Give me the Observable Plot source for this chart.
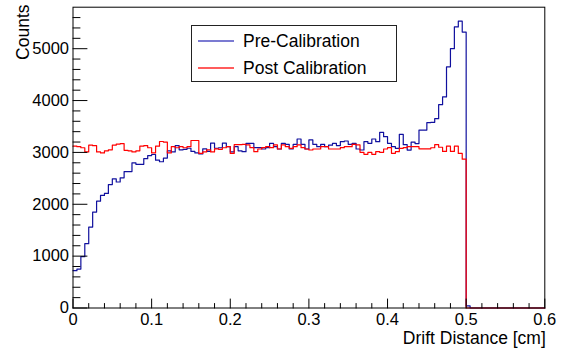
<!DOCTYPE html>
<html>
<head>
<meta charset="utf-8">
<script src="https://cdn.jsdelivr.net/npm/d3@7"></script>
<script src="https://cdn.jsdelivr.net/npm/@observablehq/plot@0.6"></script>
<style>
  body { margin: 0; background: #fff; }
  #wrap { position: relative; width: 564px; height: 349px; font-family: "Liberation Sans", Arial, sans-serif; }
  #legend { position: absolute; left: 191px; top: 25px; width: 206px; height: 57px; border: 1px solid #222; background: #fff; box-sizing: border-box; }
  .sw { position: absolute; left: 6px; width: 36px; height: 0; border-top: 2px solid; }
  .lbl { position: absolute; left: 51px; font-size: 17.5px; line-height: 20px; color: #000; white-space: nowrap; }
</style>
</head>
<body>
<div id="wrap"></div>
<script>
// ---- data ----
const binWidth = 0.005;           // cm per bin, 120 bins from 0 to 0.6
const seriesNames = ["Pre-Calibration", "Post Calibration"];
const seriesColors = ["#10109e", "#ff0000"];
const preCounts = [
  720, 750, 990, 1240, 1560, 1850, 2060, 2170, 2210, 2380,
  2490, 2430, 2510, 2630, 2630, 2800, 2770, 2770, 2880, 2940,
  2960, 2850, 2820, 2890, 3030, 3010, 3130, 3050, 3060, 3080,
  3020, 2990, 2970, 3070, 3020, 3180, 3080, 3090, 3180, 3110,
  3010, 3110, 3030, 3015, 3176, 3176, 3092, 3092, 3066, 3092,
  3176, 3111, 3066, 3176, 3156, 3066, 3156, 3259, 3156, 3066,
  3240, 3156, 3111, 3156, 3111, 3140, 3176, 3131, 3208, 3220,
  3156, 3176, 3066, 3047, 3208, 3176, 3259, 3208, 3388, 3304,
  3176, 3111, 3079, 3349, 3150, 3045, 3200, 3170, 3430, 3430,
  3575, 3580, 3650, 3920, 4070, 4650, 5000, 5420, 5530, 5320,
  40, 0, 0, 0, 0, 0, 0, 0, 0, 0,
  0, 0, 0, 0, 0, 0, 0, 0, 0, 0
];
const postCounts = [
  3120, 3110, 3090, 3010, 3140, 3130, 3010, 2990, 3030, 3050,
  3140, 3160, 3170, 3040, 3030, 3010, 3030, 3120, 3130, 3090,
  2990, 3120, 3210, 3200, 2990, 3110, 3090, 3110, 3090, 3110,
  3230, 3230, 2980, 3010, 3050, 3010, 3070, 3060, 3090, 3110,
  2980, 3150, 3150, 3156, 3144, 3092, 3015, 3066, 3092, 3111,
  3092, 3144, 3066, 3144, 3111, 3079, 3111, 3144, 3092, 3066,
  3047, 3066, 3066, 3111, 3111, 3066, 3066, 3066, 3092, 3111,
  3111, 3156, 3144, 3002, 2963, 3002, 2963, 3015, 3002, 3066,
  3092, 2982, 3015, 3079, 3092, 3111, 3111, 3110, 3070, 3070,
  3070, 3090, 3150, 3100, 3020, 3120, 3020, 3120, 2980, 2870,
  0, 0, 0, 0, 0, 0, 0, 0, 0, 0,
  0, 0, 0, 0, 0, 0, 0, 0, 0, 0
];
const xMajor = [0, 0.1, 0.2, 0.3, 0.4, 0.5, 0.6];
const xMinor = [0.02, 0.04, 0.06, 0.08, 0.12, 0.14, 0.16, 0.18, 0.22, 0.24, 0.26, 0.28,
                0.32, 0.34, 0.36, 0.38, 0.42, 0.44, 0.46, 0.48, 0.52, 0.54, 0.56, 0.58];
const xTickLabels = ["0", "0.1", "0.2", "0.3", "0.4", "0.5", "0.6"];
const yMajor = [0, 1000, 2000, 3000, 4000, 5000];
const yMinor = [200, 400, 600, 800, 1200, 1400, 1600, 1800, 2200, 2400, 2600, 2800,
                3200, 3400, 3600, 3800, 4200, 4400, 4600, 4800, 5200, 5400, 5600];
const yTickLabels = ["0", "1000", "2000", "3000", "4000", "5000"];
const xTitle = "Drift Distance [cm]";
const yTitle = "Counts";

// ---- build step tables ----
function steps(counts) {
  const pts = counts.map((c, i) => ({x: i * binWidth, y: c}));
  pts.push({x: counts.length * binWidth, y: counts[counts.length - 1]});
  return pts;
}
const tickShape = {draw(ctx, l) { ctx.moveTo(0, 0); ctx.lineTo(0, -l); }};

const chart = Plot.plot({
  width: 564, height: 349,
  marginLeft: 72.5, marginRight: 19.7, marginTop: 6.7, marginBottom: 41.5,
  style: {fontFamily: "'Liberation Sans', Arial, sans-serif", fontSize: "16.5px", background: "#fff", color: "#000"},
  x: {domain: [0, 0.6], label: null},
  y: {domain: [0, 5800], label: null},
  marks: [
    Plot.line(steps(preCounts), {x: "x", y: "y", curve: "step-after", stroke: seriesColors[0], strokeWidth: 1.2}),
    Plot.line(steps(postCounts), {x: "x", y: "y", curve: "step-after", stroke: seriesColors[1], strokeWidth: 1.2}),
    Plot.frame({stroke: "#000", strokeWidth: 1}),
    Plot.vector(yMajor, {x: () => 0, y: d => d, length: 14, rotate: 90, anchor: "start", shape: tickShape, stroke: "#000", strokeWidth: 1}),
    Plot.vector(yMinor, {x: () => 0, y: d => d, length: 7, rotate: 90, anchor: "start", shape: tickShape, stroke: "#000", strokeWidth: 1}),
    Plot.vector(xMajor, {x: d => d, y: () => 0, length: 9, rotate: 0, anchor: "start", shape: tickShape, stroke: "#000", strokeWidth: 1}),
    Plot.vector(xMinor, {x: d => d, y: () => 0, length: 4.5, rotate: 0, anchor: "start", shape: tickShape, stroke: "#000", strokeWidth: 1}),
    Plot.axisY(yMajor, {tickSize: 0, tickPadding: 4, tickFormat: (d, i) => yTickLabels[yMajor.indexOf(d)]}),
    Plot.axisX(xMajor, {tickSize: 0, tickPadding: 5.5, tickFormat: (d) => xTickLabels[xMajor.indexOf(d)]}),
    Plot.text([yTitle], {text: d => d, frameAnchor: "top-left", rotate: -90, textAnchor: "end", lineAnchor: "middle", dx: -49.5, dy: -2.7, fontSize: 17.5}),
    Plot.text([xTitle], {text: d => d, frameAnchor: "bottom-right", textAnchor: "end", lineAnchor: "middle", dx: 1, dy: 30.5, fontSize: 17.5})
  ]
});

const wrap = document.getElementById("wrap");
wrap.appendChild(chart);

// legend
const legend = document.createElement("div");
legend.id = "legend";
const legendSwatchColors = ["#7b7bd2", "#ff5c5c"];
seriesNames.forEach((name, i) => {
  const rowCenter = i === 0 ? 14.5 : 42;
  const sw = document.createElement("div");
  sw.className = "sw";
  sw.style.top = (rowCenter - 1) + "px";
  sw.style.borderTopColor = legendSwatchColors[i];
  const lb = document.createElement("div");
  lb.className = "lbl";
  lb.style.top = (rowCenter - 9.8) + "px";
  lb.textContent = name;
  legend.appendChild(sw);
  legend.appendChild(lb);
});
wrap.appendChild(legend);
</script>
</body>
</html>
